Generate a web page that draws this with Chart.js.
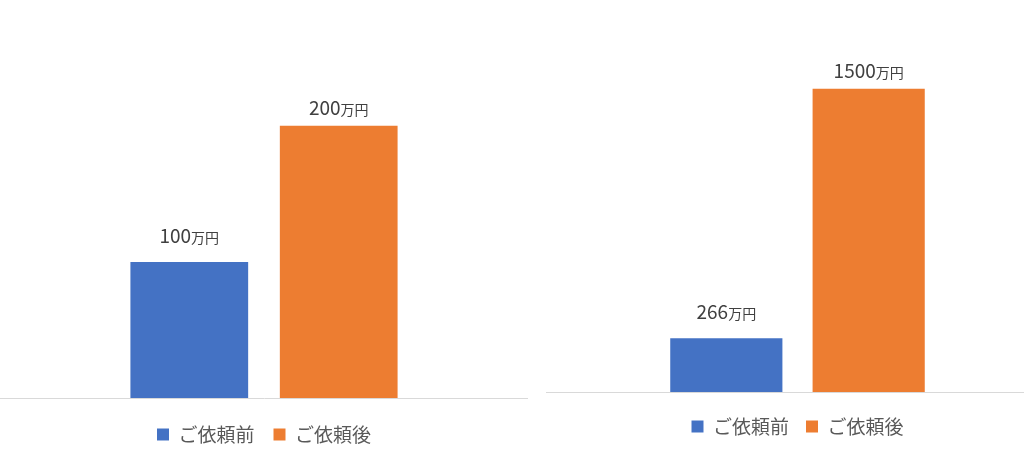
<!DOCTYPE html>
<html>
<head>
<meta charset="utf-8">
<script src="https://cdn.jsdelivr.net/npm/chart.js@4.4.1/dist/chart.umd.min.js"></script>
<style>
    html, body { margin: 0; padding: 0; background: #fff; overflow: hidden; width: 1024px; height: 476px; }
    .panel { position: absolute; top: 0; height: 476px; }
    #panel-left { left: 0; width: 528px; }
    #panel-right { left: 546px; width: 503px; }
</style>
</head>
<body>
<div class="panel" id="panel-left"><canvas id="chart-left"></canvas></div>
<div class="panel" id="panel-right"><canvas id="chart-right"></canvas></div>
<script>
// chart data
const categories = [""];
const seriesNames = ["ご依頼前", "ご依頼後"];
const leftValues = [100, 200];
const rightValues = [266, 1500];
const unitSuffix = "万円";

// Excel default palette
const barColors = ["#4472C4", "#ED7D31"];
const labelOffsets = [26, 18];
const fontFamily = "'Noto Sans CJK JP', 'Noto Sans', sans-serif";

// draws "100万円" style labels above each bar, suffix in a smaller font
const valueLabelPlugin = {
    id: "valueLabels",
    afterDatasetsDraw(chart) {
        const ctx = chart.ctx;
        ctx.save();
        ctx.textBaseline = "alphabetic";
        chart.data.datasets.forEach((ds, di) => {
            const meta = chart.getDatasetMeta(di);
            meta.data.forEach((bar, i) => {
                const numText = String(ds.data[i]);
                ctx.font = `19px ${fontFamily}`;
                const numW = ctx.measureText(numText).width;
                ctx.font = `14px ${fontFamily}`;
                const sufW = ctx.measureText(unitSuffix).width;
                const startX = bar.x - (numW + sufW) / 2;
                const y = bar.y - labelOffsets[di] + 7;
                ctx.fillStyle = "#404040";
                ctx.font = `19px ${fontFamily}`;
                ctx.fillText(numText, startX, y);
                ctx.font = `14px ${fontFamily}`;
                ctx.fillText(unitSuffix, startX + numW, y);
            });
        });
        ctx.restore();
    }
};

function makeChart(canvasId, values, yMax, padTop, padBottom, legendPad) {
    const ctx = document.getElementById(canvasId).getContext("2d");
    return new Chart(ctx, {
        type: "bar",
        data: {
            labels: categories,
            datasets: seriesNames.map((name, i) => ({
                label: name,
                data: [values[i]],
                backgroundColor: barColors[i],
                borderWidth: 0,
                categoryPercentage: 0.566,
                barPercentage: 0.788
            }))
        },
        options: {
            responsive: true,
            maintainAspectRatio: false,
            animation: false,
            layout: { padding: { top: padTop, bottom: padBottom, left: 0, right: 0 } },
            plugins: {
                legend: {
                    position: "bottom",
                    labels: {
                        color: "#595959",
                        boxWidth: 12,
                        boxHeight: 12,
                        padding: legendPad,
                        font: { family: fontFamily, size: 19 }
                    }
                },
                tooltip: { enabled: false }
            },
            scales: {
                x: {
                    grid: { display: false },
                    border: { color: "#d9d9d9", width: 1 },
                    ticks: { display: false }
                },
                y: {
                    display: false,
                    min: 0,
                    max: yMax
                }
            }
        },
        plugins: [valueLabelPlugin]
    });
}

makeChart("chart-left", leftValues, 280, 17, 22, 19);
makeChart("chart-right", rightValues, 1800, 28, 30, 17);
</script>
</body>
</html>
